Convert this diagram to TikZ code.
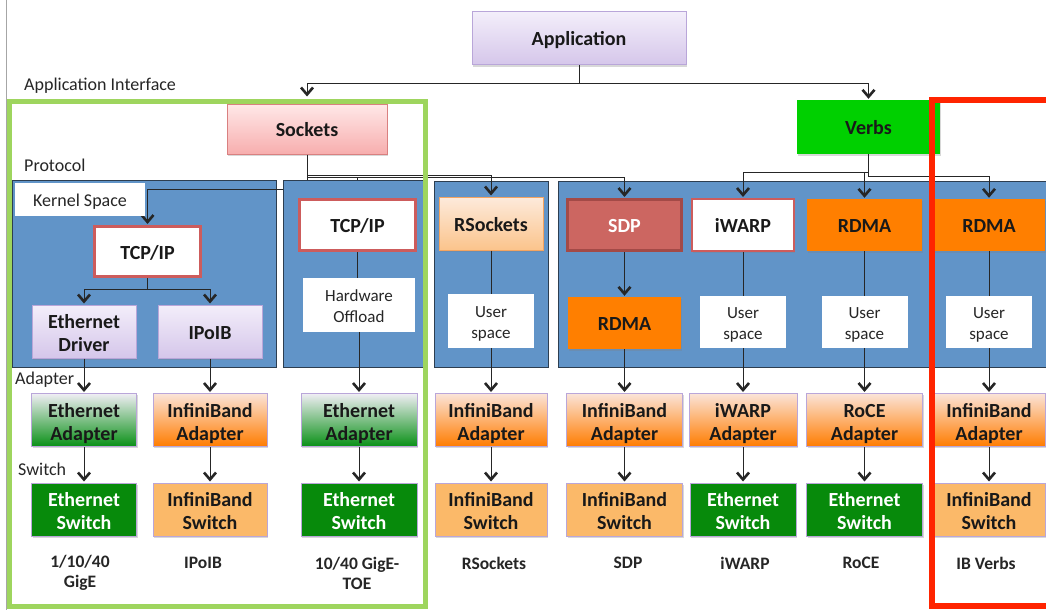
\documentclass[tikz,border=0pt]{standalone}
\usepackage{fontspec}
\setmainfont{Carlito}
\usetikzlibrary{arrows.meta,shadows}
\pgfdeclarelayer{back}
\pgfdeclarelayer{wires}
\pgfdeclarelayer{mid}
\pgfsetlayers{back,wires,mid,main}
\definecolor{lavtop}{HTML}{F3EEFA}
\definecolor{lavbot}{HTML}{D5C6EA}
\definecolor{lavedge}{HTML}{B9A6D9}
\definecolor{pinktop}{HTML}{FFE8E8}
\definecolor{pinkbot}{HTML}{F7AEAE}
\definecolor{pinkedge}{HTML}{D98080}
\definecolor{verbsgreen}{HTML}{00D000}
\definecolor{tcpedge}{HTML}{CD5C5C}
\definecolor{sdpfill}{HTML}{CC6661}
\definecolor{sdpedge}{HTML}{A34A47}
\definecolor{rdmafill}{HTML}{FF7F00}
\definecolor{rstop}{HTML}{FDEADB}
\definecolor{rsbot}{HTML}{FBC48C}
\definecolor{rsedge}{HTML}{F4A460}
\definecolor{ethadtop}{HTML}{F0EEF4}
\definecolor{ethadbot}{HTML}{099016}
\definecolor{ibadtop}{HTML}{FBE4D8}
\definecolor{ibadbot}{HTML}{FF7C00}
\definecolor{ethsw}{HTML}{078A0B}
\definecolor{ibsw}{HTML}{FBB969}
\definecolor{bluefill}{HTML}{6194C8}
\definecolor{blueedge}{HTML}{2D3E50}
\definecolor{greenframe}{HTML}{9ED55E}
\definecolor{redframe}{HTML}{FF2400}
\begin{document}
\begin{tikzpicture}[x=1pt,y=-1pt,
  lbl/.style={font=\fontsize{20}{23}\selectfont\bfseries, align=center, inner sep=0pt, text=black!90,
    text height=20pt, text depth=5pt},
  two/.style={text height=45pt, text depth=5pt},
  shad/.style={drop shadow={shadow xshift=1.2pt,shadow yshift=-1.5pt,opacity=0.3}},
  lav/.style={lbl, shad, draw=lavedge, line width=1pt, top color=lavtop, bottom color=lavbot},
  pinkbox/.style={lbl, shad, draw=pinkedge, line width=1pt, top color=pinktop, bottom color=pinkbot},
  verbsbox/.style={lbl, shad, fill=verbsgreen},
  tcpbox/.style={lbl, shad, fill=white, draw=tcpedge, line width=3pt},
  sdpbox/.style={lbl, shad, fill=sdpfill, draw=sdpedge, line width=3pt, text=white},
  iwbox/.style={lbl, shad, fill=white, draw=tcpedge, line width=2pt},
  rdmabox/.style={lbl, shad, fill=rdmafill},
  rsbox/.style={lbl, shad, draw=rsedge, line width=1pt, top color=rstop, bottom color=rsbot},
  whitebox/.style={font=\fontsize{17}{20.5}\selectfont, align=center, inner sep=0pt, fill=white, text=black!85,
    text height=39pt, text depth=5pt},
  ethad/.style={lbl, two, shad, draw=lavedge, line width=1pt, top color=ethadtop, bottom color=ethadbot},
  ibad/.style={lbl, two, shad, draw=lavedge, line width=1pt, top color=ibadtop, bottom color=ibadbot},
  ethswitch/.style={lbl, two, shad, draw=lavedge, line width=1pt, fill=ethsw, text=white},
  ibswitch/.style={lbl, two, shad, draw=lavedge, line width=1pt, fill=ibsw},
  sect/.style={font=\fontsize{18}{21}\selectfont, inner sep=0pt, anchor=west, text=black!85},
  blab/.style={font=\fontsize{17.5}{20}\selectfont\bfseries, align=center, inner sep=0pt, text=black!85},
  bluebox/.style={fill=bluefill, draw=blueedge, line width=0.9pt},
  conn/.style={line width=1pt, draw=black!85},
  arr/.style={conn, -{Straight Barb[length=7pt,width=12pt,line width=2.6pt]}, shorten >=1pt}
]
\useasboundingbox (0,0) rectangle (1046,610);

% white page and blue group backgrounds
\begin{pgfonlayer}{back}
\fill[white] (0,0) rectangle (1046,610);
\draw[bluebox] (12,180) rectangle (276,367);
\draw[bluebox] (434,181) rectangle (548,367);
\draw[bluebox] (558,181) rectangle (1060,367);
\end{pgfonlayer}
\begin{pgfonlayer}{mid}
\draw[bluebox] (283,180) rectangle (424,367);
\end{pgfonlayer}

% section labels
\node[sect] (ai) at (24,86) {Application Interface};
\node[sect] (proto) at (24,165) {Protocol};
\node[sect] (adap) at (15,380) {Adapter};
\node[sect] (swit) at (18,469) {Switch};

% top
\node[lav, minimum width=214pt, minimum height=53pt] (app) at (579,38.5) {Application};
\node[pinkbox, minimum width=160pt, minimum height=50pt] (sockets) at (307,129) {Sockets};
\node[verbsbox, minimum width=143pt, minimum height=54pt] (verbs) at (868.5,127) {Verbs};

% group 1
\node[whitebox, font=\fontsize{18}{21}\selectfont, text height=19pt, text depth=5pt, minimum width=130pt, minimum height=33pt] (kernel) at (80,199.5) {Kernel Space};
\node[tcpbox, minimum width=106pt, minimum height=50pt] (tcp1) at (147.5,251.5) {TCP/IP};
\node[lav, two, minimum width=104pt, minimum height=53pt] (ethdrv) at (84,331.5) {Ethernet\\Driver};
\node[lav, minimum width=104pt, minimum height=53pt] (ipoib) at (210,331.5) {IPoIB};

% group 2
\node[tcpbox, minimum width=116pt, minimum height=51pt] (tcp2) at (357.5,225) {TCP/IP};
\node[whitebox, minimum width=112pt, minimum height=54pt] (hwoff) at (359,305) {Hardware\\Offload};

% group 3
\node[rsbox, minimum width=104pt, minimum height=53pt] (rsock) at (491,223.5) {RSockets};
\node[whitebox, minimum width=86pt, minimum height=54pt] (us1) at (491,321) {User\\space};

% group 4
\node[sdpbox, minimum width=114pt, minimum height=51pt] (sdp) at (624.5,225) {SDP};
\node[rdmabox, minimum width=113pt, minimum height=52pt] (rdma2) at (624.5,323) {RDMA};
\node[iwbox, minimum width=102pt, minimum height=52pt] (iwarp) at (743,225) {iWARP};
\node[whitebox, minimum width=86pt, minimum height=52pt] (us2) at (743,322) {User\\space};
\node[rdmabox, minimum width=115pt, minimum height=52pt] (rdma3) at (864.5,225) {RDMA};
\node[whitebox, minimum width=86pt, minimum height=52pt] (us3) at (864.5,322) {User\\space};
\node[rdmabox, minimum width=112pt, minimum height=52pt] (rdma4) at (989,225) {RDMA};
\node[whitebox, minimum width=86pt, minimum height=52pt] (us4) at (989,322) {User\\space};

% adapters
\node[ethad, minimum width=105pt, minimum height=53pt] (ad1) at (84,420) {Ethernet\\Adapter};
\node[ibad, minimum width=114pt, minimum height=53pt] (ad2) at (210,420) {InfiniBand\\Adapter};
\node[ethad, minimum width=116pt, minimum height=53pt] (ad3) at (359,420) {Ethernet\\Adapter};
\node[ibad, minimum width=112pt, minimum height=53pt] (ad4) at (491,420) {InfiniBand\\Adapter};
\node[ibad, minimum width=116pt, minimum height=53pt] (ad5) at (624.5,420) {InfiniBand\\Adapter};
\node[ibad, minimum width=108pt, minimum height=53pt] (ad6) at (743,420) {iWARP\\Adapter};
\node[ibad, minimum width=116pt, minimum height=53pt] (ad7) at (864.5,420) {RoCE\\Adapter};
\node[ibad, minimum width=112pt, minimum height=53pt] (ad8) at (989,420) {InfiniBand\\Adapter};

% switches
\node[ethswitch, minimum width=105pt, minimum height=53pt] (sw1) at (84,509.5) {Ethernet\\Switch};
\node[ibswitch, minimum width=114pt, minimum height=53pt] (sw2) at (210,509.5) {InfiniBand\\Switch};
\node[ethswitch, minimum width=116pt, minimum height=53pt] (sw3) at (359,509.5) {Ethernet\\Switch};
\node[ibswitch, minimum width=112pt, minimum height=53pt] (sw4) at (491,509.5) {InfiniBand\\Switch};
\node[ibswitch, minimum width=116pt, minimum height=53pt] (sw5) at (624.5,509.5) {InfiniBand\\Switch};
\node[ethswitch, minimum width=106pt, minimum height=53pt] (sw6) at (743,509.5) {Ethernet\\Switch};
\node[ethswitch, minimum width=116pt, minimum height=53pt] (sw7) at (864.5,509.5) {Ethernet\\Switch};
\node[ibswitch, minimum width=112pt, minimum height=53pt] (sw8) at (989,509.5) {InfiniBand\\Switch};

% bottom labels
\node[blab] (b1) at (80,573) {1/10/40\\GigE};
\node[blab] (b2) at (203,563) {IPoIB};
\node[blab] (b3) at (357,573) {10/40 GigE-\\TOE};
\node[blab] (b4) at (494,563) {RSockets};
\node[blab] (b5) at (628,563) {SDP};
\node[blab] (b6) at (745,563) {iWARP};
\node[blab] (b7) at (861,563) {RoCE};
\node[blab] (b8) at (986,563) {IB Verbs};

% connectors: application
\draw[arr, shorten >=7pt] (app.south) -- ++(0,18) -| (sockets.north);
\draw[arr] (app.south) -- ++(0,18) -| (verbs.north);

% connectors: sockets
\draw[arr] (sockets.south) -- ++(0,21) -| (rsock.north);
\draw[arr] (sockets.south) -- ++(0,23) -| (sdp.north);
\begin{pgfonlayer}{wires}
\draw[arr] (sockets.south) -- ++(0,35) -| (tcp1.north);
\draw[arr] (sockets.south) -- ++(0,23) -| (tcp2.north);
\end{pgfonlayer}

% connectors: verbs
\draw[arr] (verbs.south) -- ++(0,18) -| (iwarp.north);
\draw[arr] (verbs.south) -- ++(0,18) -| (rdma3.north);
\draw[arr] (verbs.south) -- ++(0,22) -| (rdma4.north);

% inside groups
\draw[arr] (tcp1.south) -- ++(0,11) -| (ethdrv.north);
\draw[arr] (tcp1.south) -- ++(0,11) -| (ipoib.north);
\draw[conn] (tcp2.south) -- (tcp2.south |- hwoff.north);
\draw[conn] (rsock.south) -- (us1.north);
\draw[arr] (sdp.south) -- (rdma2.north);
\draw[conn] (iwarp.south) -- (us2.north);
\draw[conn] (rdma3.south) -- (us3.north);
\draw[conn] (rdma4.south) -- (us4.north);

% down to adapters
\draw[arr] (ethdrv.south) -- (ad1.north);
\draw[arr] (ipoib.south) -- (ad2.north);
\draw[arr] (hwoff.south) -- (ad3.north);
\draw[arr] (us1.south) -- (ad4.north);
\draw[arr] (rdma2.south) -- (ad5.north);
\draw[arr] (us2.south) -- (ad6.north);
\draw[arr] (us3.south) -- (ad7.north);
\draw[arr] (us4.south) -- (ad8.north);

% adapters to switches
\foreach \i in {1,...,8}{\draw[arr] (ad\i.south) -- (sw\i.north);}

% frames
\draw[gray!70, line width=0.8pt] (6.5,0) -- (6.5,610);
\draw[greenframe, line width=5pt] (9.5,101) rectangle (425.5,606);
\draw[redframe, line width=6pt] (931.5,100) rectangle (1070,606);
\end{tikzpicture}
\end{document}
